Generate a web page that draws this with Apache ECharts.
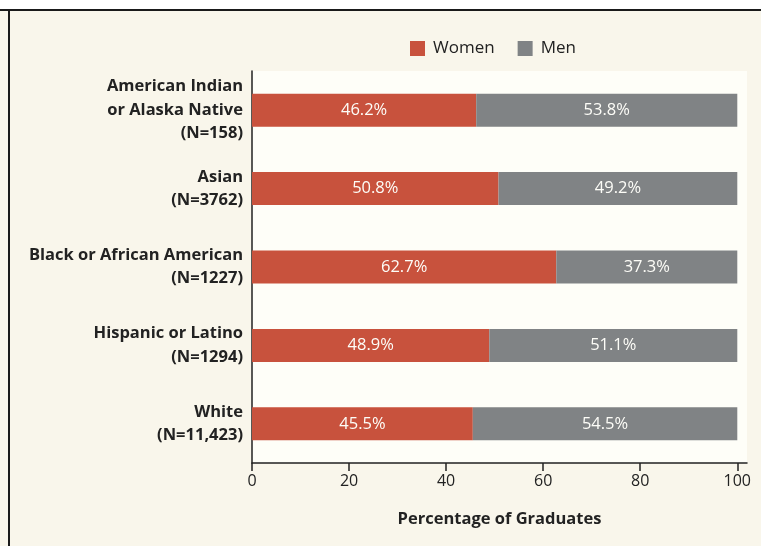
<!DOCTYPE html>
<html>
<head>
<meta charset="utf-8">
<script src="https://cdn.jsdelivr.net/npm/echarts@6/dist/echarts.min.js"></script>
<style>
  html, body { margin: 0; padding: 0; background: #F9F6EB; }
  #box { width: 761px; height: 546px; }
</style>
</head>
<body>
<div id="box"></div>
<script>
// data
var groups = [
    'American Indian\nor Alaska Native\n(N=158)',
    'Asian\n(N=3762)',
    'Black or African American\n(N=1227)',
    'Hispanic or Latino\n(N=1294)',
    'White\n(N=11,423)'
];
var women = [46.2, 50.8, 62.7, 48.9, 45.5];
var men = [53.8, 49.2, 37.3, 51.1, 54.5];
var xTicks = [0, 20, 40, 60, 80, 100];

var myChart = echarts.init(document.getElementById('box'));

var font = '"Open Sans", sans-serif';

// white percentage text inside each segment
function pctLabel() {
    return {
        show: true,
        position: 'inside',
        color: '#fdfdf8',
        fontSize: 16.5,
        fontFamily: font,
        formatter: function (p) { return p.value.toFixed(1) + '%'; }
    };
}

var option = {
    backgroundColor: '#F9F6EB',
    textStyle: { fontFamily: font },
    // frame: white strip on top, dark rule on top and left
    graphic: [
        { type: 'rect', left: 0, top: 0, shape: { width: 761, height: 9 }, style: { fill: '#ffffff' }, silent: true },
        { type: 'rect', left: 0, top: 9, shape: { width: 761, height: 2 }, style: { fill: '#1a1a1a' }, silent: true },
        { type: 'rect', left: 8, top: 9, shape: { width: 2, height: 537 }, style: { fill: '#1a1a1a' }, silent: true }
    ],
    legend: {
        data: ['Women', 'Men'],
        left: 410,
        top: 40,
        padding: 0,
        icon: 'rect',
        itemWidth: 15,
        itemHeight: 15,
        itemGap: 23,
        textStyle: { fontSize: 17, color: '#222', fontFamily: font, padding: [0, 0, 0, 3] }
    },
    grid: {
        left: 252,
        right: 14,
        top: 71,
        bottom: 83,
        show: true,
        backgroundColor: '#FEFEF8',
        borderWidth: 0
    },
    xAxis: {
        type: 'value',
        min: 0,
        max: 102,
        name: 'Percentage of Graduates',
        nameLocation: 'middle',
        nameGap: 48,
        nameTextStyle: { fontSize: 16.5, fontWeight: 'bold', color: '#222', fontFamily: font },
        axisLine: { show: true, lineStyle: { color: '#222', width: 1.5 } },
        axisTick: { show: true, length: 8, lineStyle: { color: '#222', width: 1.5 }, customValues: xTicks },
        axisLabel: { fontSize: 16, color: '#222', margin: 10, fontFamily: font, customValues: xTicks },
        splitLine: { show: false }
    },
    yAxis: {
        type: 'category',
        data: groups,
        inverse: true,
        axisLine: { show: true, lineStyle: { color: '#222', width: 1.5 } },
        axisTick: { show: false },
        axisLabel: {
            fontSize: 16.5,
            fontWeight: 'bold',
            color: '#222',
            lineHeight: 23.5,
            margin: 9,
            align: 'right',
            fontFamily: font
        }
    },
    series: [{
        name: 'Women',
        type: 'bar',
        stack: 'all',
        barWidth: 33,
        data: women,
        itemStyle: { color: '#C8523D' },
        label: pctLabel()
    }, {
        name: 'Men',
        type: 'bar',
        stack: 'all',
        barWidth: 33,
        data: men,
        itemStyle: { color: '#808385' },
        label: pctLabel()
    }]
};

myChart.setOption(option);
</script>
</body>
</html>
